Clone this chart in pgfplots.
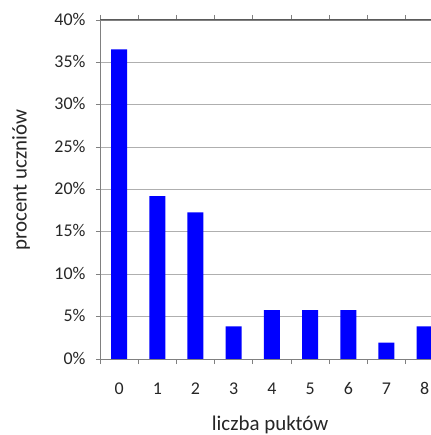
\documentclass[border=0pt]{standalone}
\usepackage{pgfplots}
\pgfplotsset{compat=1.18}
\usepackage{fontspec}
\setmainfont{Carlito}
\definecolor{gridgray}{RGB}{175,175,175}
\definecolor{axisgray}{RGB}{128,128,128}
\definecolor{topgray}{RGB}{90,90,90}
\begin{document}
\begin{tikzpicture}
\useasboundingbox (0,0) rectangle (431bp,435bp);
\begin{axis}[
  at={(100bp,76bp)}, anchor=south west,
  scale only axis, width=331bp, height=339bp,
  /pgf/number format/assume math mode=true,
  tick label style={font=\fontsize{18}{21}\selectfont, text=black!85},
  ybar, bar width=16bp,
  xmin=-0.5, xmax=8.165,
  ymin=0, ymax=40,
  axis x line=box, axis y line=left,
  x axis line style={axisgray, -},
  y axis line style={axisgray, -},
  xtick={0,...,8},
  major x tick style={draw=none},
  minor xtick={-0.5,0.5,...,7.5},
  minor x tick style={axisgray, thick},
  minor tick length=5bp,
  tick align=outside,
  ytick={0,5,...,40},
  major y tick style={axisgray, thick},
  major tick length=4bp,
  yticklabel={\pgfmathprintnumber{\tick}\%},
  yticklabel style={xshift=-7bp, yshift=1bp},
  xticklabel style={yshift=-16bp},
  ymajorgrids, grid style={gridgray, line width=0.8pt},
  ylabel={procent uczniów},
  ylabel style={at={(axis description cs:-0.2387,0.528)}, anchor=center, rotate=0, font=\fontsize{21}{25}\selectfont, text=black!85},
  xlabel={liczba puktów},
  xlabel style={at={(axis description cs:0.514,-0.210)}, anchor=base, font=\fontsize{21}{25}\selectfont, text=black!85},
  clip=true,
]
\addplot[fill=blue, draw=none] coordinates {
 (0,36.54) (1,19.23) (2,17.31) (3,3.85) (4,5.77) (5,5.77) (6,5.77) (7,1.92) (8,3.85)
};
\end{axis}
\draw[topgray, line width=1pt] (100bp,415bp) -- (431bp,415bp);
\end{tikzpicture}
\end{document}
